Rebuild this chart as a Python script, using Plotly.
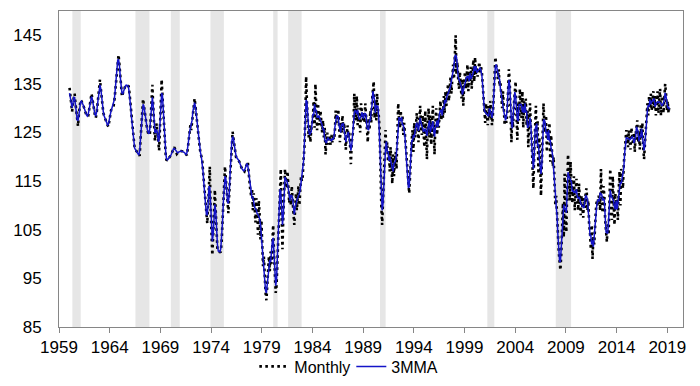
import numpy as np
import pandas as pd
import plotly.graph_objects as go

# Monthly values, Jan 1960 .. Mar 2019
monthly_1960s = [
    134.2, 132.0, 129.8, 129.3, 131.2, 132.5, 133.0, 131.0, 129.0, 127.5, 126.3, 128.8,
    130.5, 131.7, 131.5, 131.2, 130.8, 130.2, 129.6, 129.0, 128.5, 128.4, 128.3, 129.5,
    131.0, 132.2, 133.0, 132.0, 130.6, 129.4, 128.6, 128.0, 128.9, 130.6, 132.5, 134.5,
    135.9, 134.0, 132.0, 130.2, 129.0, 128.4, 127.8, 127.3, 126.9, 126.5, 126.2, 127.5,
    128.5, 129.5, 130.0, 130.2, 130.3, 131.5, 133.5, 136.0, 138.5, 140.2, 141.0, 139.0,
    136.5, 134.0, 132.4, 133.0, 133.6, 134.2, 134.6, 134.8, 134.8, 134.6, 134.5, 133.0,
    131.0, 128.5, 126.5, 124.5, 122.1, 121.8, 121.5, 121.2, 120.9, 120.6, 120.3, 120.2,
    123.5, 127.0, 130.0, 131.9, 130.5, 129.0, 127.8, 126.5, 125.5, 124.9, 124.7, 124.5,
    128.0, 131.5, 134.8, 130.5, 126.5, 123.3, 125.0, 126.9, 125.0, 123.0, 121.3, 126.0,
    131.0, 135.9, 132.5, 129.0, 125.5, 122.5, 119.8, 119.2, 119.4, 119.6, 119.8, 120.0,
]
monthly_1970s = [
    120.3, 120.8, 121.3, 121.7, 122.0, 121.5, 121.0, 120.6, 120.8, 121.0, 121.1, 121.2,
    121.2, 121.2, 121.1, 121.0, 120.9, 120.7, 120.5, 120.3, 121.8, 123.5, 125.2, 126.5,
    125.5, 127.5, 129.5, 131.0, 132.0, 130.5, 128.5, 126.5, 125.0, 123.5, 122.0, 120.8,
    119.8, 119.4, 117.0, 114.5, 112.0, 110.0, 108.0, 106.3, 110.0, 114.0, 118.0, 109.0,
    104.0, 99.8, 104.0, 108.5, 113.2, 109.0, 104.5, 101.0, 100.5, 100.4, 100.4, 100.5,
    102.5, 106.5, 110.5, 114.5, 118.0, 115.5, 113.0, 110.5, 108.4, 112.5, 116.5, 120.5,
    123.5, 125.2, 123.8, 122.4, 121.0, 120.0, 119.8, 119.6, 119.4, 119.0, 118.4, 117.8,
    117.6, 117.3, 117.1, 117.0, 117.5, 118.2, 118.7, 119.0, 116.8, 114.5, 113.0, 112.0,
    113.5, 109.0, 112.5, 110.0, 106.5, 111.5, 109.5, 104.0, 111.0, 108.0, 103.0, 107.0,
    101.0, 97.5, 99.5, 95.0, 92.0, 90.5, 93.5, 97.0, 99.5, 96.5, 100.5, 98.0,
]
monthly_1980s = [
    104.0, 106.0, 100.0, 95.0, 92.0, 93.5, 99.0, 104.5, 110.0, 112.5, 117.5, 109.0,
    101.0, 108.0, 115.0, 117.5, 115.0, 113.5, 117.0, 113.0, 110.5, 112.5, 110.0, 114.0,
    112.0, 108.5, 106.0, 110.0, 112.5, 109.0, 111.5, 114.0, 110.0, 113.5, 116.0, 115.0,
    116.0, 119.5, 122.0, 127.5, 136.5, 131.0, 126.5, 124.0, 126.5, 123.0, 125.5, 127.0,
    128.0, 131.5, 126.0, 135.0, 128.0, 125.5, 131.0, 128.0, 126.5, 129.5, 127.0, 125.0,
    127.5, 124.0, 126.0, 120.5, 123.0, 125.0, 122.5, 124.5, 123.5, 122.5, 124.5, 123.0,
    124.0, 123.5, 125.0, 129.5, 127.0, 128.5, 129.8, 126.5, 123.0, 127.0, 125.0, 128.5,
    125.5, 127.0, 123.0, 121.5, 124.5, 126.5, 124.0, 125.0, 122.5, 118.5, 123.0, 125.5,
    126.0, 133.0, 128.0, 127.5, 132.5, 126.5, 130.0, 128.0, 125.0, 131.0, 129.0, 127.5,
    129.0, 127.0, 131.0, 128.5, 126.5, 123.0, 128.0, 125.5, 129.5, 127.0, 131.5, 133.5,
]
monthly_1990s = [
    135.5, 128.0, 131.5, 127.5, 133.0, 130.0, 128.5, 125.5, 116.0, 110.0, 106.0, 111.0,
    114.0, 119.0, 125.5, 121.0, 123.0, 119.0, 121.5, 117.0, 122.0, 118.0, 114.5, 120.5,
    116.0, 119.5, 121.0, 117.5, 124.0, 131.0, 127.5, 126.0, 129.5, 126.5, 128.5, 124.5,
    127.0, 124.5, 121.0, 118.5, 115.5, 113.0, 112.5, 116.0, 121.0, 123.5, 125.5, 121.0,
    127.0, 124.0, 126.5, 129.0, 125.5, 123.0, 127.5, 130.5, 126.0, 124.5, 128.5, 125.0,
    122.0, 129.5, 126.0, 119.5, 127.5, 130.0, 124.0, 128.5, 122.5, 126.5, 130.5, 125.0,
    120.5, 127.0, 130.0, 124.5, 128.0, 126.0, 129.5, 131.5, 127.5, 130.0, 128.0, 132.5,
    129.0, 133.5, 130.5, 132.5, 135.0, 131.5, 134.0, 136.5, 133.0, 137.5, 139.0, 136.0,
    141.0, 145.0, 137.0, 139.5, 136.0, 134.0, 137.5, 135.0, 132.0, 136.0, 130.5, 134.5,
    137.5, 134.0, 136.5, 139.0, 133.5, 137.5, 135.5, 138.5, 134.0, 136.5, 140.0, 135.5,
]
monthly_2000s = [
    140.5, 137.0, 138.5, 136.5, 138.0, 139.5, 137.0, 138.5, 137.5, 134.5, 132.0, 129.5,
    127.0, 131.0, 128.5, 126.5, 130.5, 128.0, 131.5, 129.0, 126.5, 128.5, 132.0, 136.5,
    140.5, 139.0, 137.5, 136.0, 138.0, 134.5, 135.5, 132.0, 130.0, 133.5, 128.0, 126.5,
    129.0, 127.0, 128.5, 134.0, 138.0, 135.5, 130.5, 123.0, 128.5, 126.0, 131.0, 133.5,
    135.5, 128.5, 123.5, 131.0, 127.5, 134.0, 130.5, 128.0, 133.5, 126.0, 131.5, 129.5,
    132.0, 126.5, 129.5, 122.0, 127.0, 131.0, 126.0, 123.5, 118.0, 113.5, 121.0, 125.5,
    130.5, 122.5, 127.5, 116.5, 124.0, 119.0, 112.0, 118.5, 124.5, 131.0, 127.0, 125.0,
    128.5, 121.0, 126.0, 123.5, 127.0, 119.0, 124.5, 121.5, 118.0, 120.0, 115.5, 110.0,
    112.0, 107.5, 104.0, 100.5, 98.5, 96.7, 100.0, 106.5, 110.5, 103.5, 116.5, 107.5,
    104.5, 113.5, 120.5, 116.5, 111.0, 119.0, 115.0, 110.5, 113.0, 116.0, 109.0, 113.5,
]
monthly_2010s = [
    115.5, 111.0, 109.0, 114.5, 111.5, 108.0, 112.0, 110.0, 107.5, 111.5, 109.5, 113.0,
    113.5, 109.0, 111.0, 106.0, 104.5, 101.0, 106.0, 99.0, 103.5, 102.0, 106.5, 109.0,
    111.0, 110.0, 112.0, 111.5, 109.0, 117.5, 110.5, 108.5, 114.0, 112.0, 107.0, 104.0,
    102.5, 106.5, 104.0, 110.0, 117.5, 112.0, 107.0, 116.0, 110.5, 106.0, 112.5, 109.0,
    111.5, 107.0, 113.0, 117.0, 110.0, 117.5, 116.0, 113.5, 118.5, 121.0, 122.5, 125.5,
    124.0, 122.0, 125.5, 123.5, 121.5, 126.0, 124.0, 122.5, 125.0, 121.0, 124.5, 126.5,
    127.5, 123.0, 125.0, 121.5, 126.5, 124.0, 127.0, 122.0, 119.5, 122.5, 125.5, 129.5,
    131.0, 128.5, 132.5, 130.0, 133.0, 129.5, 131.5, 133.5, 130.0, 132.5, 128.5, 131.5,
    133.5, 129.0, 131.0, 134.0, 128.5, 130.5, 132.5, 129.0, 131.5, 135.0, 133.0, 129.5,
    131.5, 129.0, 130.5,
]
start_year = 1960

# Recession shading (decimal years)
rec_start = [1960.32, 1966.54, 1970.03, 1973.94, 1980.13, 1981.60, 1990.66, 2001.25, 2008.00]
rec_end = [1961.14, 1967.92, 1970.91, 1975.26, 1980.56, 1982.93, 1991.22, 2001.94, 2009.51]

tick_years = [1959, 1964, 1969, 1974, 1979, 1984, 1989, 1994, 1999, 2004, 2009, 2014, 2019]
y_ticks = [85, 95, 105, 115, 125, 135, 145]

monthly = (monthly_1960s + monthly_1970s + monthly_1980s + monthly_1990s
           + monthly_2000s + monthly_2010s)
n = len(monthly)
x = [start_year + i / 12 + 1 / 24 for i in range(n)]
mma3 = pd.Series(monthly).rolling(3, center=True, min_periods=1).mean().tolist()

font_family = "Liberation Sans, Arial, sans-serif"

fig = go.Figure()
fig.add_trace(go.Scatter(
    x=x, y=monthly, mode="lines", name="Monthly",
    line=dict(color="black", width=2.6, dash="2.6px,3.4px"),
))
fig.add_trace(go.Scatter(
    x=x, y=mma3, mode="lines", name="3MMA",
    line=dict(color="#1414C8", width=1.5),
))

for s, e in zip(rec_start, rec_end):
    fig.add_shape(type="rect", xref="x", yref="paper", x0=s, x1=e, y0=0, y1=1,
                  fillcolor="#E6E6E6", line=dict(width=0), layer="below")

fig.update_layout(
    width=700, height=386,
    margin=dict(l=59, r=17, t=11, b=59, autoexpand=False),
    paper_bgcolor="white", plot_bgcolor="white",
    font=dict(family=font_family, color="black", size=17),
    showlegend=True,
    legend=dict(orientation="h", x=0.313, y=-0.125, xanchor="left", yanchor="middle",
                font=dict(size=16, family=font_family), itemwidth=30,
                entrywidth=52, entrywidthmode="pixels",
                bgcolor="rgba(0,0,0,0)", tracegroupgap=0),
    xaxis=dict(
        range=[1959, 2020.55], tickvals=tick_years, ticktext=[str(t) for t in tick_years],
        ticks="outside", ticklen=5, tickcolor="#868686", tickwidth=1,
        showline=True, linecolor="#868686", linewidth=1, mirror=True,
        showgrid=False, zeroline=False, tickfont=dict(size=17), automargin=False,
    ),
    yaxis=dict(
        range=[85, 150], tickvals=y_ticks, ticks="", ticklabelstandoff=13,
        showline=True, linecolor="#868686", linewidth=1, mirror=True,
        showgrid=False, zeroline=False, tickfont=dict(size=17), automargin=False,
    ),
)

fig.write_html("out.html", config={"displayModeBar": False},
               post_script="document.body.style.margin='0';")
